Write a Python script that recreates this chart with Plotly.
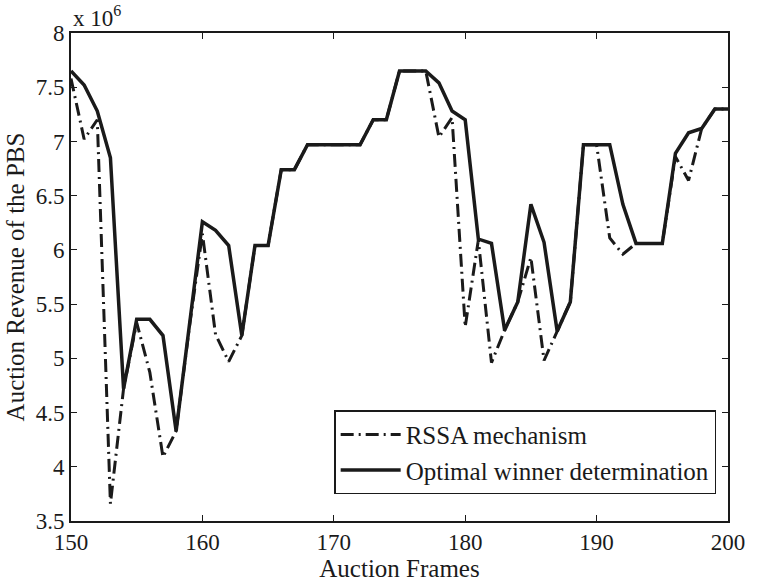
import plotly.graph_objects as go

# Auction frame index
frames = list(range(150, 201))

# PBS revenue per frame, in units of 10^6
rssa = [7.58, 7.02, 7.20, 3.66, 4.72, 5.33, 4.87, 4.09, 4.33, 5.28,
        6.15, 5.22, 4.97, 5.21, 6.04, 6.04, 6.74, 6.74, 6.97, 6.97,
        6.97, 6.97, 6.97, 7.20, 7.20, 7.65, 7.65, 7.65, 7.04, 7.22,
        5.29, 6.09, 4.96, 5.26, 5.52, 5.93, 4.98, 5.25, 5.52, 6.97,
        6.97, 6.11, 5.96, 6.06, 6.06, 6.06, 6.86, 6.64, 7.12, 7.30,
        7.30]
optimal = [7.65, 7.52, 7.28, 6.85, 4.72, 5.36, 5.36, 5.21, 4.33, 5.28,
           6.26, 6.18, 6.04, 5.21, 6.04, 6.04, 6.74, 6.74, 6.97, 6.97,
           6.97, 6.97, 6.97, 7.20, 7.20, 7.65, 7.65, 7.65, 7.54, 7.28,
           7.20, 6.10, 6.06, 5.26, 5.52, 6.42, 6.07, 5.25, 5.52, 6.97,
           6.97, 6.97, 6.42, 6.06, 6.06, 6.06, 6.89, 7.08, 7.12, 7.30,
           7.30]

x_ticks = [150, 160, 170, 180, 190, 200]
y_ticks = [3.5, 4, 4.5, 5, 5.5, 6, 6.5, 7, 7.5, 8]
y_tick_text = ["3.5", "4", "4.5", "5", "5.5", "6", "6.5", "7", "7.5", "8"]

FONT = "Liberation Serif, Times New Roman, serif"
INK = "#1a1a1a"

fig = go.Figure()
fig.add_trace(go.Scatter(
    x=frames, y=rssa, mode="lines", name="RSSA mechanism",
    line=dict(color=INK, width=3, dash="13px,5px,2px,5px"),
))
fig.add_trace(go.Scatter(
    x=frames, y=optimal, mode="lines", name="Optimal winner determination",
    line=dict(color=INK, width=3.5),
))

axis_common = dict(
    showgrid=False, zeroline=False, showline=True, linecolor=INK,
    linewidth=1.6, mirror="ticks", ticks="inside", ticklen=6,
    tickcolor=INK, tickwidth=1,
    tickfont=dict(family=FONT, size=23, color=INK),
)

fig.update_xaxes(
    range=[150, 200], tickvals=x_ticks,
    title=dict(text="Auction Frames", font=dict(family=FONT, size=25, color=INK),
               standoff=0),
    **axis_common,
)
fig.update_yaxes(
    range=[3.5, 8], tickvals=y_ticks, ticktext=y_tick_text,
    title=dict(text="Auction Revenue of the PBS",
               font=dict(family=FONT, size=25, color=INK), standoff=4),
    **axis_common,
)

fig.add_annotation(
    text="x 10<sup>6</sup>", xref="paper", yref="paper", x=0.0, y=1.0,
    xanchor="left", yanchor="bottom", showarrow=False,
    font=dict(family=FONT, size=23, color=INK),
)

fig.update_layout(
    width=757, height=585,
    margin=dict(l=71, r=20, t=33, b=59),
    paper_bgcolor="white", plot_bgcolor="white",
    showlegend=True,
    legend=dict(
        x=0.982, y=0.055, xanchor="right", yanchor="bottom",
        bgcolor="white", bordercolor=INK, borderwidth=1.5,
        font=dict(family=FONT, size=25, color=INK),
        tracegroupgap=0, itemwidth=60,
    ),
)

fig.write_html("out.html")
